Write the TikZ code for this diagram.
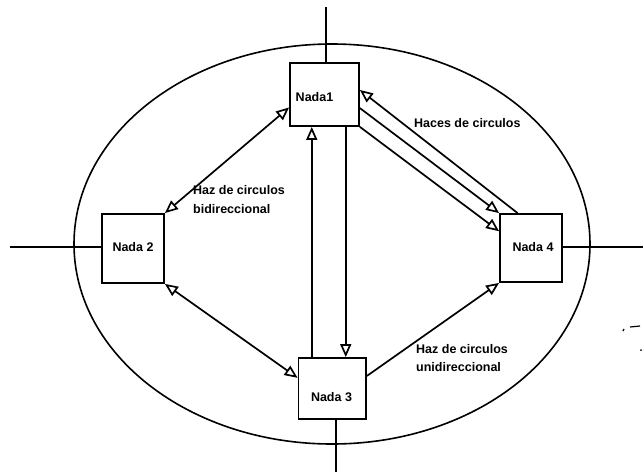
\documentclass[tikz,border=0pt]{standalone}
\usepackage{fontspec}
\setmainfont{Liberation Sans}
\usetikzlibrary{arrows.meta,calc}
\begin{document}
\begin{tikzpicture}[x=1pt,y=-1pt,
  box/.style={draw,line width=1.8pt,rectangle,inner sep=0pt},
  lbl/.style={font=\fontsize{12.5}{18.5}\selectfont\bfseries,inner sep=0pt},
  conn/.style={line width=1.7pt},
  >={Triangle[open,length=13pt,width=11pt]}
  ]
\useasboundingbox (0,0) rectangle (643,472);
% outer ellipse
\draw[line width=1.6pt] (332,244) ellipse [x radius=258, y radius=200];
% boxes
\node[box,minimum width=69pt,minimum height=63pt] (n1) at (324.5,94.5) {};
\node[box,minimum width=62pt,minimum height=69pt] (n2) at (133,248.5) {};
\node[box,minimum width=67.5pt,minimum height=61pt] (n3) at (332.25,388.5) {};
\node[box,minimum width=62pt,minimum height=68pt] (n4) at (531,248) {};
% box texts
\node[lbl] (t1) at (314.5,97) {Nada1};
\node[lbl] (t2) at (133,247) {Nada 2};
\node[lbl] (t3) at (331.5,397.5) {Nada 3};
\node[lbl] (t4) at (533,247) {Nada 4};
% labels
\node[lbl,anchor=west] (t5) at (414,123) {Haces de circulos};
\node[lbl,anchor=west,align=left] (t6) at (193,199.5) {Haz de circulos\\bidireccional};
\node[lbl,anchor=west,align=left] (t7) at (416,358) {Haz de circulos\\unidireccional};
% axis lines
\coordinate (top) at (326,7);
\coordinate (left) at (10,247);
\coordinate (right) at (643,247);
\coordinate (bot) at (336,472);
\draw[line width=1.8pt] (top) -- (top |- n1.north);
\draw[line width=1.8pt] (left) -- (left -| n2.west);
\draw[line width=1.8pt] (n4.east |- right) -- (right);
\draw[line width=1.8pt] (bot |- n3.south) -- (bot);
% connector anchor points
\coordinate (p1w) at ($(n1.north west)!0.70!(n1.south west)$);
\coordinate (p3w) at ($(n3.north west)!0.33!(n3.south west)$);
\coordinate (p3e) at ($(n3.north east)!0.30!(n3.south east)$);
\coordinate (p1up) at ($(n1.south west)!0.32!(n1.south east)$);
\coordinate (p1dn) at ($(n1.south west)!0.80!(n1.south east)$);
\coordinate (p1a) at ($(n1.north east)!0.43!(n1.south east)$);
\coordinate (p4a) at ($(n4.north west)!0.29!(n4.north east)$);
\coordinate (p1b) at ($(n1.north east)!0.71!(n1.south east)$);
\coordinate (p4c) at ($(n4.north west)!0.26!(n4.south west)$);
% connectors
\draw[conn,<->] (n2.north east) -- (p1w);
\draw[conn,<->] (n2.south east) -- (p3w);
\draw[conn,->] (p3e) -- (n4.south west);
\draw[conn,->] (p1up |- n3.north) -- (p1up);
\draw[conn,->] (p1dn) -- (p1dn |- n3.north);
\draw[conn,->] (p4a) -- (p1a);
\draw[conn,->] (p1b) -- (n4.north west);
\draw[conn,->] (n1.south east) -- (p4c);
% scan marks
\draw[line width=1.2pt] (623,331) -- (624,329);
\draw[line width=1.2pt] (630,327) -- (640,326);
\fill (641,350) circle (1);
\end{tikzpicture}
\end{document}
